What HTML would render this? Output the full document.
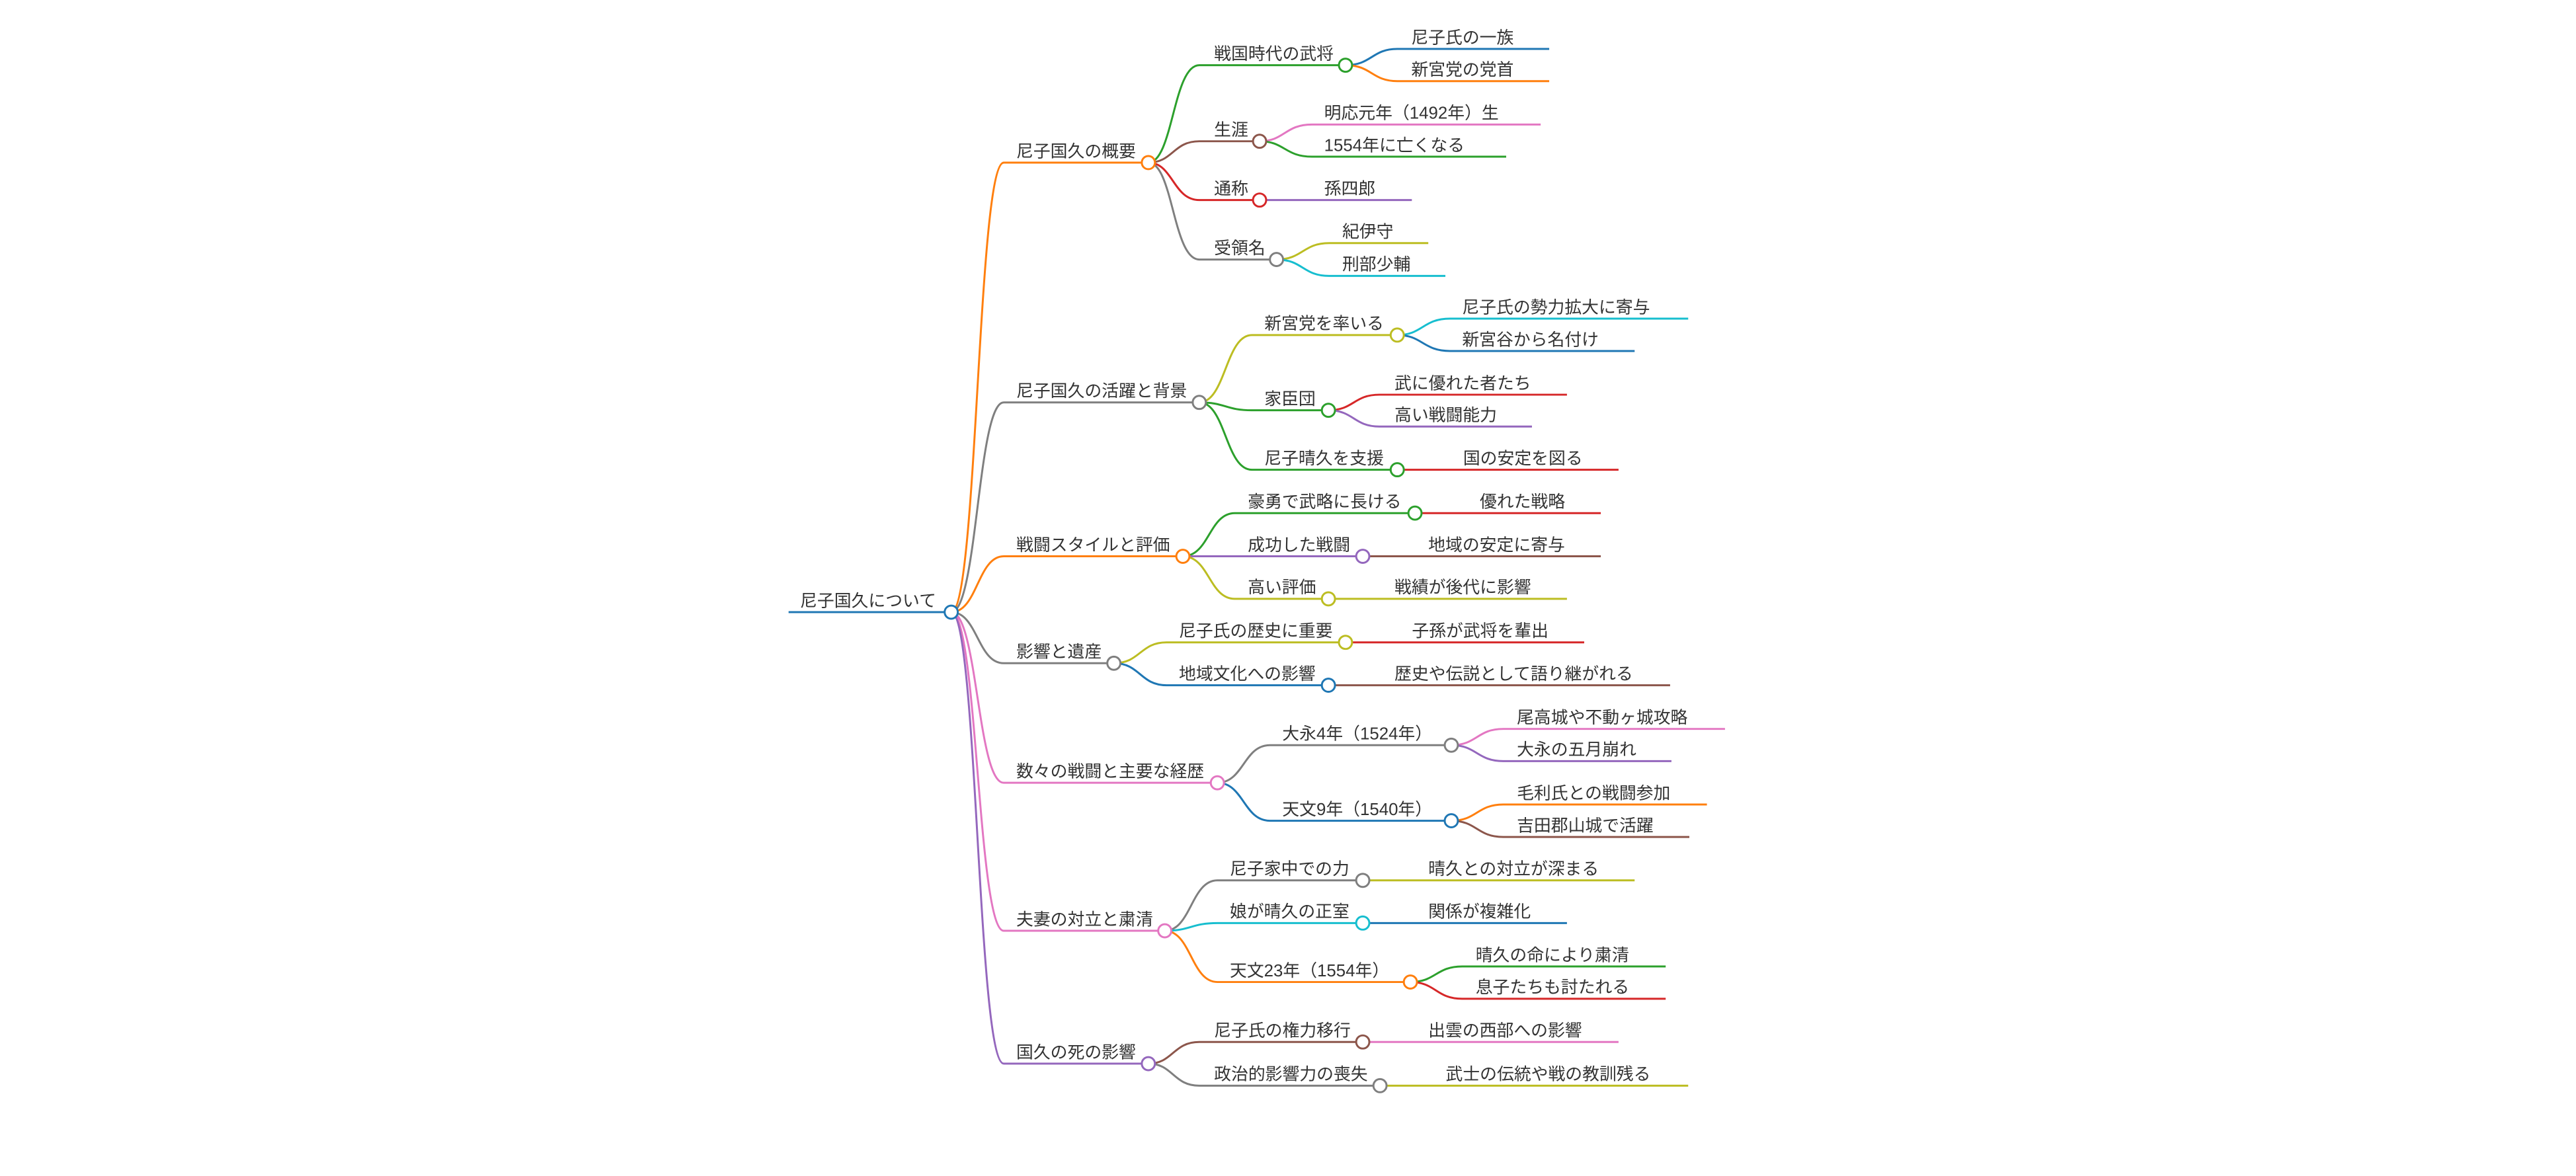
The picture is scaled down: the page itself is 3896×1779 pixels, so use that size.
<!DOCTYPE html>
<html><head><meta charset="utf-8"><style>
html,body{margin:0;padding:0;background:#fff;}
svg{display:block;}
text{font-family:"Liberation Sans","Noto Sans CJK JP",sans-serif;font-size:10.4px;fill:#333;}
path{fill:none;stroke-width:1.2;}
circle{fill:#fff;stroke-width:1.2;}
</style></head><body>
<svg width="3896" height="1779" viewBox="0 0 1568 716" xmlns="http://www.w3.org/2000/svg">
<rect width="1568" height="716" fill="#fff"/>
<path d="M480 372.7 L579 372.7" stroke="#1f77b4"/>
<path d="M579 372.7 C595 372.7 595 99 611 99 L699 99" stroke="#ff7f0e"/>
<path d="M579 372.7 C595 372.7 595 245 611 245 L730 245" stroke="#7f7f7f"/>
<path d="M579 372.7 C595 372.7 595 338.7 611 338.7 L720 338.7" stroke="#ff7f0e"/>
<path d="M579 372.7 C595 372.7 595 403.8 611 403.8 L678 403.8" stroke="#7f7f7f"/>
<path d="M579 372.7 C595 372.7 595 476.6 611 476.6 L741 476.6" stroke="#e377c2"/>
<path d="M579 372.7 C595 372.7 595 566.7 611 566.7 L709 566.7" stroke="#e377c2"/>
<path d="M579 372.7 C595 372.7 595 647.6 611 647.6 L699 647.6" stroke="#9467bd"/>
<path d="M699 99 C714 99 714 39.7 730 39.7 L819 39.7" stroke="#2ca02c"/>
<path d="M699 99 C714 99 714 86 730 86 L766.7 86" stroke="#8c564b"/>
<path d="M699 99 C714 99 714 121.8 730 121.8 L766.7 121.8" stroke="#d62728"/>
<path d="M699 99 C714 99 714 158 730 158 L777 158" stroke="#7f7f7f"/>
<path d="M819 39.7 C835 39.7 835 29.8 850.5 29.8 L943 29.8" stroke="#1f77b4"/>
<path d="M819 39.7 C835 39.7 835 49.4 850.5 49.4 L943 49.4" stroke="#ff7f0e"/>
<path d="M766.7 86 C782 86 782 75.8 798.6 75.8 L937.8 75.8" stroke="#e377c2"/>
<path d="M766.7 86 C782 86 782 95.4 798.6 95.4 L916.8 95.4" stroke="#2ca02c"/>
<path d="M766.7 121.8 L859.4 121.8" stroke="#9467bd"/>
<path d="M777 158 C793 158 793 148 809 148 L869.4 148" stroke="#bcbd22"/>
<path d="M777 158 C793 158 793 168 809 168 L879.8 168" stroke="#17becf"/>
<path d="M730 245 C746 245 746 204 762 204 L850.5 204" stroke="#bcbd22"/>
<path d="M730 245 C746 245 746 249.8 762 249.8 L808.6 249.8" stroke="#2ca02c"/>
<path d="M730 245 C746 245 746 286 762 286 L850.5 286" stroke="#2ca02c"/>
<path d="M850.5 204 C866 204 866 194 882.6 194 L1027.6 194" stroke="#17becf"/>
<path d="M850.5 204 C866 204 866 213.7 882.6 213.7 L995 213.7" stroke="#1f77b4"/>
<path d="M808.6 249.8 C824 249.8 824 240.3 839.6 240.3 L953.8 240.3" stroke="#d62728"/>
<path d="M808.6 249.8 C824 249.8 824 259.7 839.6 259.7 L932.5 259.7" stroke="#9467bd"/>
<path d="M850.5 286 L985.2 286" stroke="#d62728"/>
<path d="M720 338.7 C736 338.7 736 312.4 751.6 312.4 L861.3 312.4" stroke="#2ca02c"/>
<path d="M720 338.7 L829.5 338.7" stroke="#9467bd"/>
<path d="M720 338.7 C736 338.7 736 364.6 751.6 364.6 L808.6 364.6" stroke="#bcbd22"/>
<path d="M861.3 312.4 L974.4 312.4" stroke="#d62728"/>
<path d="M829.5 338.7 L974.4 338.7" stroke="#8c564b"/>
<path d="M808.6 364.6 L953.8 364.6" stroke="#bcbd22"/>
<path d="M678 403.8 C694 403.8 694 391.1 710 391.1 L819 391.1" stroke="#bcbd22"/>
<path d="M678 403.8 C694 403.8 694 417.2 710 417.2 L808.6 417.2" stroke="#1f77b4"/>
<path d="M819 391.1 L964.3 391.1" stroke="#d62728"/>
<path d="M808.6 417.2 L1016.6 417.2" stroke="#8c564b"/>
<path d="M741 476.6 C757 476.6 757 453.7 773 453.7 L883.4 453.7" stroke="#7f7f7f"/>
<path d="M741 476.6 C757 476.6 757 499.7 773 499.7 L883.4 499.7" stroke="#1f77b4"/>
<path d="M883.4 453.7 C899 453.7 899 443.8 915 443.8 L1050 443.8" stroke="#e377c2"/>
<path d="M883.4 453.7 C899 453.7 899 463.4 915 463.4 L1017.4 463.4" stroke="#9467bd"/>
<path d="M883.4 499.7 C899 499.7 899 489.8 915 489.8 L1039 489.8" stroke="#ff7f0e"/>
<path d="M883.4 499.7 C899 499.7 899 509.6 915 509.6 L1028.3 509.6" stroke="#8c564b"/>
<path d="M709 566.7 C725 566.7 725 536 741 536 L829.5 536" stroke="#7f7f7f"/>
<path d="M709 566.7 C725 566.7 725 562 741 562 L829.5 562" stroke="#17becf"/>
<path d="M709 566.7 C725 566.7 725 597.9 741 597.9 L858.5 597.9" stroke="#ff7f0e"/>
<path d="M829.5 536 L995 536" stroke="#bcbd22"/>
<path d="M829.5 562 L953.8 562" stroke="#1f77b4"/>
<path d="M858.5 597.9 C874 597.9 874 588.4 890 588.4 L1013.9 588.4" stroke="#2ca02c"/>
<path d="M858.5 597.9 C874 597.9 874 608.1 890 608.1 L1013.9 608.1" stroke="#d62728"/>
<path d="M699 647.6 C714 647.6 714 634.4 730 634.4 L829.5 634.4" stroke="#8c564b"/>
<path d="M699 647.6 C714 647.6 714 661 730 661 L840 661" stroke="#7f7f7f"/>
<path d="M829.5 634.4 L985.2 634.4" stroke="#e377c2"/>
<path d="M840 661 L1027.6 661" stroke="#bcbd22"/>

<circle cx="579" cy="372.7" r="4" stroke="#1f77b4"/>
<circle cx="699" cy="99" r="4" stroke="#ff7f0e"/>
<circle cx="730" cy="245" r="4" stroke="#7f7f7f"/>
<circle cx="720" cy="338.7" r="4" stroke="#ff7f0e"/>
<circle cx="678" cy="403.8" r="4" stroke="#7f7f7f"/>
<circle cx="741" cy="476.6" r="4" stroke="#e377c2"/>
<circle cx="709" cy="566.7" r="4" stroke="#e377c2"/>
<circle cx="699" cy="647.6" r="4" stroke="#9467bd"/>
<circle cx="819" cy="39.7" r="4" stroke="#2ca02c"/>
<circle cx="766.7" cy="86" r="4" stroke="#8c564b"/>
<circle cx="766.7" cy="121.8" r="4" stroke="#d62728"/>
<circle cx="777" cy="158" r="4" stroke="#7f7f7f"/>
<circle cx="850.5" cy="204" r="4" stroke="#bcbd22"/>
<circle cx="808.6" cy="249.8" r="4" stroke="#2ca02c"/>
<circle cx="850.5" cy="286" r="4" stroke="#2ca02c"/>
<circle cx="861.3" cy="312.4" r="4" stroke="#2ca02c"/>
<circle cx="829.5" cy="338.7" r="4" stroke="#9467bd"/>
<circle cx="808.6" cy="364.6" r="4" stroke="#bcbd22"/>
<circle cx="819" cy="391.1" r="4" stroke="#bcbd22"/>
<circle cx="808.6" cy="417.2" r="4" stroke="#1f77b4"/>
<circle cx="883.4" cy="453.7" r="4" stroke="#7f7f7f"/>
<circle cx="883.4" cy="499.7" r="4" stroke="#1f77b4"/>
<circle cx="829.5" cy="536" r="4" stroke="#7f7f7f"/>
<circle cx="829.5" cy="562" r="4" stroke="#17becf"/>
<circle cx="858.5" cy="597.9" r="4" stroke="#ff7f0e"/>
<circle cx="829.5" cy="634.4" r="4" stroke="#8c564b"/>
<circle cx="840" cy="661" r="4" stroke="#7f7f7f"/>

<g transform="translate(0,1)">
<text x="487" y="368.2">尼子国久について</text>
<text x="618.6" y="94.5">尼子国久の概要</text>
<text x="618.6" y="240.5">尼子国久の活躍と背景</text>
<text x="618.6" y="334.2">戦闘スタイルと評価</text>
<text x="618.6" y="399.3">影響と遺産</text>
<text x="618.6" y="472.1">数々の戦闘と主要な経歴</text>
<text x="618.6" y="562.2">夫妻の対立と粛清</text>
<text x="618.6" y="643.1">国久の死の影響</text>

<text x="739" y="35.2">戦国時代の武将</text>
<text x="739" y="81.5">生涯</text>
<text x="739" y="117.3">通称</text>
<text x="739" y="153.5">受領名</text>
<text x="859" y="25.3">尼子氏の一族</text>
<text x="859" y="44.9">新宮党の党首</text>
<text x="806" y="71.3">明応元年（1492年）生</text>
<text x="806" y="90.9">1554年に亡くなる</text>
<text x="806" y="117.3">孫四郎</text>
<text x="817" y="143.5">紀伊守</text>
<text x="817" y="163.5">刑部少輔</text>

<text x="769.6" y="199.5">新宮党を率いる</text>
<text x="769.6" y="245.3">家臣団</text>
<text x="769.6" y="281.5">尼子晴久を支援</text>
<text x="890" y="189.5">尼子氏の勢力拡大に寄与</text>
<text x="890" y="209.2">新宮谷から名付け</text>
<text x="848.8" y="235.8">武に優れた者たち</text>
<text x="848.8" y="255.2">高い戦闘能力</text>
<text x="890.6" y="281.5">国の安定を図る</text>

<text x="759.5" y="307.9">豪勇で武略に長ける</text>
<text x="759.5" y="334.2">成功した戦闘</text>
<text x="759.5" y="360.1">高い評価</text>
<text x="900.7" y="307.9">優れた戦略</text>
<text x="869.4" y="334.2">地域の安定に寄与</text>
<text x="848.8" y="360.1">戦績が後代に影響</text>

<text x="717.6" y="386.6">尼子氏の歴史に重要</text>
<text x="717.6" y="412.7">地域文化への影響</text>
<text x="859.4" y="386.6">子孫が武将を輩出</text>
<text x="848.8" y="412.7">歴史や伝説として語り継がれる</text>

<text x="780.5" y="449.2">大永4年（1524年）</text>
<text x="780.5" y="495.2">天文9年（1540年）</text>
<text x="923.3" y="439.3">尾高城や不動ヶ城攻略</text>
<text x="923.3" y="458.9">大永の五月崩れ</text>
<text x="923.3" y="485.3">毛利氏との戦闘参加</text>
<text x="923.3" y="505.1">吉田郡山城で活躍</text>

<text x="748.6" y="531.5">尼子家中での力</text>
<text x="748.6" y="557.5">娘が晴久の正室</text>
<text x="748.6" y="593.4">天文23年（1554年）</text>
<text x="869.4" y="531.5">晴久との対立が深まる</text>
<text x="869.4" y="557.5">関係が複雑化</text>
<text x="898.2" y="583.9">晴久の命により粛清</text>
<text x="898.2" y="603.6">息子たちも討たれる</text>

<text x="739" y="629.9">尼子氏の権力移行</text>
<text x="739" y="656.5">政治的影響力の喪失</text>
<text x="869.4" y="629.9">出雲の西部への影響</text>
<text x="880" y="656.5">武士の伝統や戦の教訓残る</text>
</g>
</svg>
</body></html>
